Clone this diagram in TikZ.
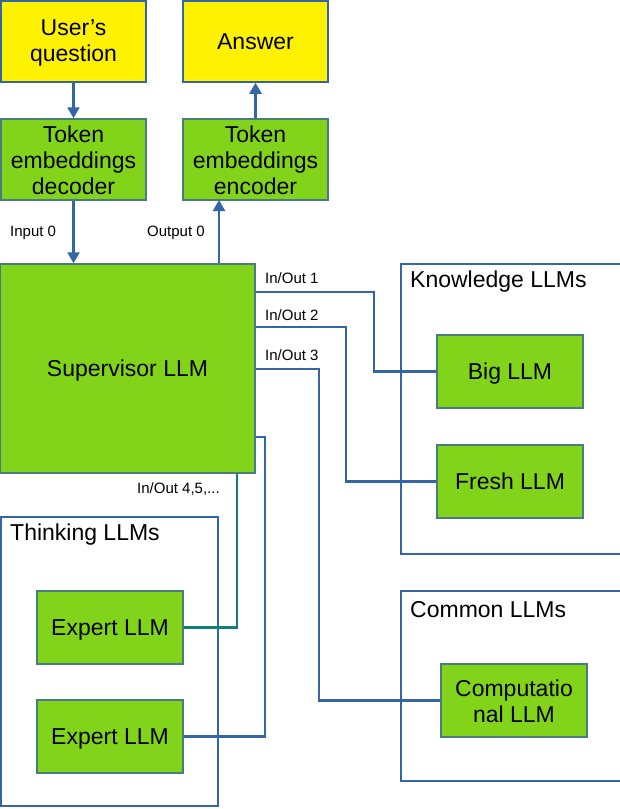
\documentclass[tikz,border=0pt]{standalone}
\usepackage{fontspec}
\setmainfont{Liberation Sans}
\usetikzlibrary{arrows.meta}
\definecolor{wire}{HTML}{3465A4}
\definecolor{llmgreen}{HTML}{81D41A}
\definecolor{llmedge}{HTML}{487C80}
\definecolor{tealwire}{HTML}{0F8076}
\newcommand\oneline[1]{\vphantom{A}\smash{#1}}
\tikzset{
  userbox/.style={draw=wire,line width=1.5pt,fill=yellow,minimum width=145pt,minimum height=81pt,inner sep=0pt,align=center,font=\fontsize{23}{26}\selectfont},
  llmbox/.style={draw=llmedge,line width=1.5pt,fill=llmgreen,minimum width=146pt,minimum height=73pt,inner sep=0pt,align=center,font=\fontsize{23}{26}\selectfont},
  groupline/.style={draw=wire,line width=2.2pt},
  grouptitle/.style={anchor=west,inner sep=0pt,font=\fontsize{23}{26}\selectfont},
  link/.style={draw=wire,line width=2.2pt},
  arrow/.style={link,-{Triangle[width=12pt,length=11pt]}},
  lbl/.style={anchor=west,inner sep=0pt,font=\fontsize{15}{18}\selectfont}
}
\begin{document}
\begin{tikzpicture}[x=1pt,y=-1pt]
\useasboundingbox[fill=white] (0,0) rectangle (619,809);
% groups
\draw[groupline] (625,264) -- (401,264) -- (401,554) -- (625,554);
\draw[groupline] (625,591) -- (401,591) -- (401,781) -- (625,781);
\draw[groupline] (1,517) rectangle (218,806);
\node[grouptitle] (knowtitle) at (410,282) {Knowledge LLMs};
\node[grouptitle] (commontitle) at (410,610) {Common LLMs};
\node[grouptitle] (thinktitle) at (10,535) {Thinking LLMs};
% boxes
\node[userbox] (quest) at (73.5,41.5) {\strut User’s\\question};
\node[userbox] (answer) at (255.5,41.5) {\oneline{Answer}};
\node[llmbox,minimum width=145pt,minimum height=81pt] (dec) at (73.5,159.5) {\strut Token\\embeddings\\decoder};
\node[llmbox,minimum width=145pt,minimum height=81pt] (enc) at (255.5,159.5) {\strut Token\\embeddings\\encoder};
\node[llmbox,minimum width=255pt,minimum height=209pt] (sup) at (127.5,368.5) {\oneline{Supervisor LLM}};
\node[llmbox] (big) at (510,371.5) {\oneline{Big LLM}};
\node[llmbox] (fresh) at (510,481.5) {\oneline{Fresh LLM}};
\node[llmbox] (comp) at (514,700.5) {\strut Computatio\\nal LLM};
\node[llmbox] (exp1) at (110,627.5) {\oneline{Expert LLM}};
\node[llmbox] (exp2) at (110,736.5) {\oneline{Expert LLM}};
% connectors
\coordinate (out0) at (219,200);
\draw[arrow] (quest) -- (dec);
\draw[arrow] (dec.south) -- (dec.south |- sup.north);
\draw[arrow] (sup.north -| out0) -- (out0);
\draw[arrow] (enc) -- (answer);
\draw[link] (sup.east |- 0,292) -| (374,0 |- big.west) -- (big.west);
\draw[link] (sup.east |- 0,327) -| (346,0 |- fresh.west) -- (fresh.west);
\draw[link] (sup.east |- 0,369) -| (319,0 |- comp.west) -- (comp.west);
\draw[link] (sup.east |- 0,437) -| (265,0 |- exp2.east) -- (exp2.east);
\draw[link,draw=tealwire] (sup.south -| 237,0) |- (exp1.east);
% labels
\node[lbl] (in0) at (10,233) {Input 0};
\node[lbl] (outlbl) at (147,233) {Output 0};
\node[lbl] (io1) at (265,278) {In/Out 1};
\node[lbl] (io2) at (265,315) {In/Out 2};
\node[lbl] (io3) at (265,355) {In/Out 3};
\node[lbl] (io4) at (137,489) {In/Out 4,5,...};
\end{tikzpicture}
\end{document}
